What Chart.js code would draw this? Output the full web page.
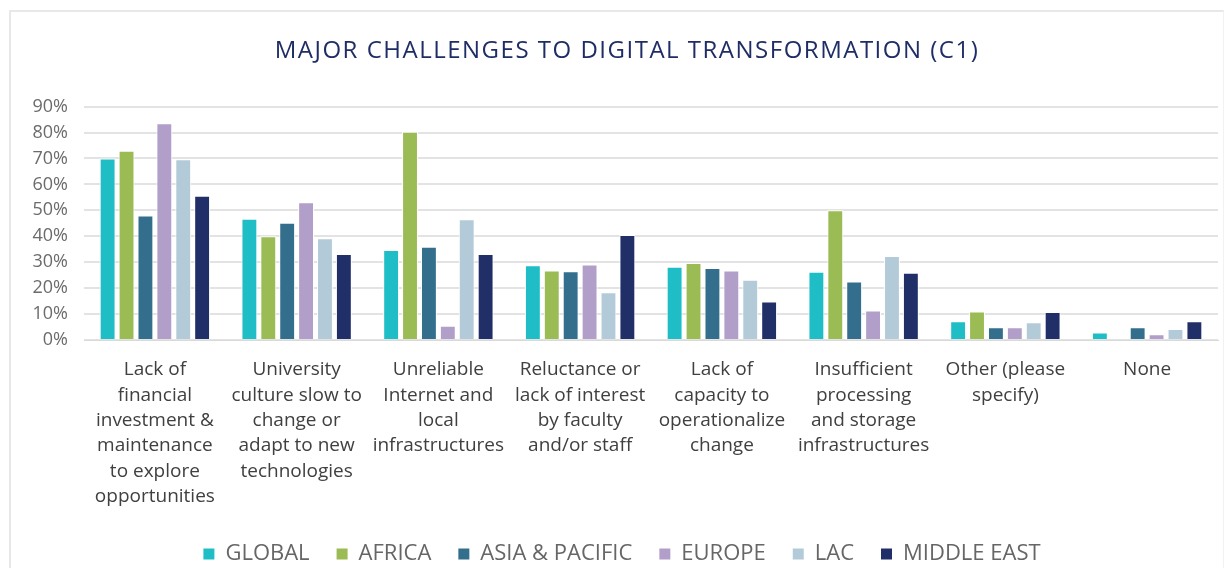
<!DOCTYPE html>
<html>
<head>
<meta charset="utf-8">
<script src="https://cdn.jsdelivr.net/npm/chart.js@4.4.1/dist/chart.umd.min.js"></script>
<style>
  html, body { margin:0; padding:0; background:#fff; }
  #wrap { position:relative; width:1225px; height:570px; }
  #frame { position:absolute; left:9px; top:10px; width:1212px; height:556px; border-left:2px solid #e8e8e8; border-top:2px solid #e8e8e8; border-right:1px solid #f2f2f2; }
  #c { position:absolute; left:0; top:0; }
</style>
</head>
<body>
<div id="wrap">
  <div id="frame"></div>
  <canvas id="c" width="1225" height="570"></canvas>
</div>
<script>
const categories = [
  ["Lack of","financial","investment &","maintenance","to explore","opportunities"],
  ["University","culture slow to","change or","adapt to new","technologies"],
  ["Unreliable","Internet and","local","infrastructures"],
  ["Reluctance or","lack of interest","by faculty","and/or staff"],
  ["Lack of","capacity to","operationalize","change"],
  ["Insufficient","processing","and storage","infrastructures"],
  ["Other (please","specify)"],
  ["None"]
];
const seriesNames = ["GLOBAL","AFRICA","ASIA & PACIFIC","EUROPE","LAC","MIDDLE EAST"];
const globalVals  = [70, 46.8, 34.7, 28.8, 28.2, 26.3, 7.2, 2.9];
const africaVals  = [73, 40, 80.3, 26.8, 29.7, 50, 11, 0];
const asiaVals    = [48, 45.2, 36, 26.5, 27.8, 22.6, 4.9, 4.9];
const europeVals  = [83.6, 53.1, 5.5, 29.1, 26.8, 11.4, 4.9, 2.2];
const lacVals     = [69.7, 39.2, 46.6, 18.4, 23.2, 32.4, 6.8, 4.2];
const meVals      = [55.6, 33.2, 33.2, 40.5, 14.8, 25.9, 10.8, 7.2];
const yTicks = [0,10,20,30,40,50,60,70,80,90];
const colors = ["#1fbec7","#9bbb55","#336e8c","#b19fc9","#b3cbd8","#212f68"];

const allVals = [globalVals, africaVals, asiaVals, europeVals, lacVals, meVals];

const tweaks = {
  id: 'tweaks',
  afterLayout(chart) {
    const lg = chart.legend;
    if (lg) { lg.left += 13; lg.right += 13; }
    const tb = chart.titleBlock;
    if (tb) {
      tb.left += 18; tb.right += 18;
      if (!tb._patched) {
        const orig = tb.draw.bind(tb);
        tb.draw = function(area) {
          const ctx = chart.ctx;
          ctx.save();
          try { ctx.letterSpacing = '1.5px'; } catch (e) {}
          orig(area);
          ctx.restore();
        };
        tb._patched = true;
      }
    }
  }
};

new Chart(document.getElementById('c'), {
  type: 'bar',
  data: {
    labels: categories,
    datasets: seriesNames.map((n,i) => ({
      label: n,
      data: allVals[i],
      backgroundColor: colors[i],
      borderColor: '#ffffff',
      borderWidth: 1,
      categoryPercentage: 0.8,
      barPercentage: 0.84
    }))
  },
  plugins: [tweaks],
  options: {
    responsive: false,
    animation: false,
    layout: { padding: { left: 0, right: 7, top: 0, bottom: -5 } },
    plugins: {
      title: {
        display: true,
        text: 'MAJOR CHALLENGES TO DIGITAL TRANSFORMATION (C1)',
        color: '#1f2d66',
        font: { family: 'Open Sans', size: 24, weight: 'normal', lineHeight: 1.15 },
        padding: { top: 37, bottom: 42 }
      },
      legend: {
        position: 'bottom',
        labels: {
          color: '#666666',
          font: { family: 'Open Sans', size: 22 },
          boxWidth: 11, boxHeight: 11,
          padding: 27,
          generateLabels: (chart) => chart.data.datasets.map((d,i) => ({
            text: d.label, fillStyle: colors[i], strokeStyle: colors[i], fontColor: '#666666', lineWidth: 0, datasetIndex: i, hidden: false
          }))
        }
      },
      tooltip: { enabled: false }
    },
    scales: {
      x: {
        grid: { display: false, drawTicks: false },
        border: { color: '#d9d9d9', width: 1 },
        afterFit: (s) => { s.height = 176; },
        ticks: {
          color: '#404040',
          font: { family: 'Open Sans', size: 19, lineHeight: 1.337 },
          maxRotation: 0, autoSkip: false, padding: 17
        }
      },
      y: {
        min: 0, max: 90,
        afterFit: (s) => { s.width = 84; },
        afterBuildTicks: (ax) => { ax.ticks = yTicks.map(v => ({ value: v })); },
        grid: { color: '#e3e3e3', lineWidth: 2, drawTicks: false },
        border: { display: false },
        ticks: {
          color: '#6b6b6b',
          font: { family: 'Open Sans', size: 18 },
          padding: 16,
          callback: v => v + '%'
        }
      }
    }
  }
});
</script>
</body>
</html>
